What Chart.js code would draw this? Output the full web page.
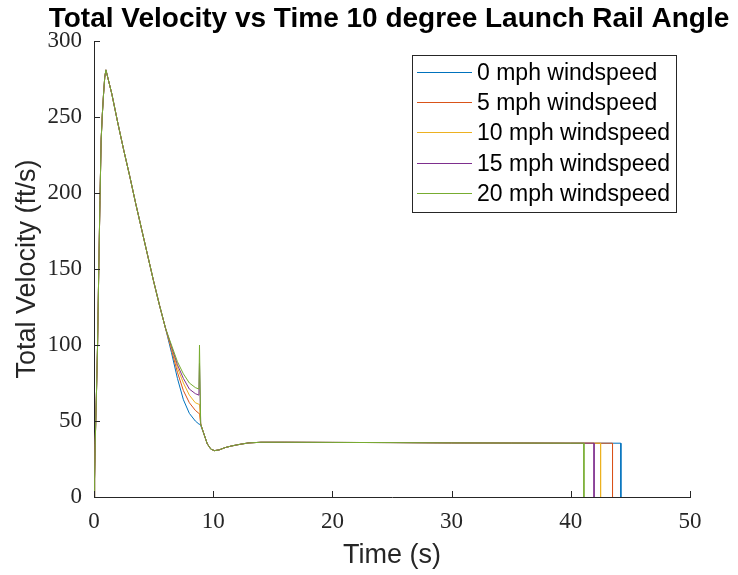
<!DOCTYPE html>
<html>
<head>
<meta charset="utf-8">
<script src="https://cdn.jsdelivr.net/npm/chart.js@4.4.1/dist/chart.umd.min.js"></script>
<style>
  html, body { margin: 0; padding: 0; background: #fff; }
  canvas { display: block; }
</style>
</head>
<body>
<canvas id="velocity" width="738" height="575"></canvas>
<script>
// boost + early coast, same for every windspeed
const boostTime = [0, 0.05, 0.1, 0.2, 0.3, 0.4, 0.5, 0.6, 0.7, 0.8, 0.9, 1.0, 1.5, 2, 2.5, 3, 3.5, 4, 4.5, 5, 5.5, 6];
const boostVel  = [0, 12, 35, 66, 100, 150, 195, 235, 252, 265, 276, 281, 265, 246, 228, 211, 193, 176, 159, 142, 126, 111];

// where the runs split apart before deployment
const splitTime = [6.5, 7.0, 7.5, 8.0, 8.5, 8.8, 8.85, 8.95];
const split0  = [95, 78, 64, 55, 50, 48, 48, 47];
const split5  = [97, 82, 70, 62, 57, 55, 55, 48];
const split10 = [98, 85, 75, 67, 62, 61, 61, 48];
const split15 = [99, 87, 78, 71, 68, 67, 88, 48];
const split20 = [100, 89, 81, 75, 72, 71, 100, 48];

// descent under chute
const descentTime = [9.2, 9.5, 9.8, 10.1, 10.5, 11, 11.5, 12, 12.5, 13, 14, 16, 20, 25, 30, 35, 40];
const descentVel  = [42, 35, 31.5, 30.5, 31, 32.5, 33.5, 34.3, 35, 35.6, 36, 36, 35.9, 35.8, 35.6, 35.5, 35.4];

const landTime = [44.2, 43.5, 42.5, 41.95, 41.1];
const landVel = 35.4;

const seriesLabels = ['0 mph windspeed', '5 mph windspeed', '10 mph windspeed', '15 mph windspeed', '20 mph windspeed'];
const seriesColors = ['#0072BD', '#D95319', '#EDB120', '#7E2F8E', '#77AC30'];
const splitVel = [split0, split5, split10, split15, split20];

const xTicks = [0, 10, 20, 30, 40, 50];
const yTicks = [0, 50, 100, 150, 200, 250, 300];

const chartTitle = 'Total Velocity vs Time 10 degree Launch Rail Angle';

function buildSeries(i) {
    const pts = [];
    boostTime.forEach((t, k) => pts.push({x: t, y: boostVel[k]}));
    splitTime.forEach((t, k) => pts.push({x: t, y: splitVel[i][k]}));
    descentTime.forEach((t, k) => pts.push({x: t, y: descentVel[k]}));
    pts.push({x: landTime[i], y: landVel});
    pts.push({x: landTime[i], y: 0});
    return pts;
}

const datasets = seriesLabels.map((lab, i) => ({
    label: lab,
    data: buildSeries(i),
    borderColor: seriesColors[i],
    backgroundColor: seriesColors[i],
    borderWidth: 1,
    pointRadius: 0,
    showLine: true,
    // matlab draws later lines on top
    order: seriesLabels.length - i
}));

const axisColor = '#262626';
const sansFont = '"Liberation Sans", Arial, sans-serif';
const serifFont = '"Liberation Serif", "DejaVu Serif", serif';

// inward tick marks like matlab
const tickMarks = {
    id: 'tickMarks',
    afterDraw(chart) {
        const c = chart.ctx;
        const xs = chart.scales.x, ys = chart.scales.y;
        const area = chart.chartArea;
        c.save();
        c.strokeStyle = axisColor;
        c.lineWidth = 1;
        c.beginPath();
        xs.ticks.forEach(t => {
            const px = Math.round(xs.getPixelForValue(t.value)) + 0.5;
            c.moveTo(px, area.bottom);
            c.lineTo(px, area.bottom - 6);
        });
        ys.ticks.forEach(t => {
            const py = Math.round(ys.getPixelForValue(t.value)) + 0.5;
            c.moveTo(area.left, py);
            c.lineTo(area.left + 6, py);
        });
        c.stroke();
        c.restore();
    }
};

// title centred over the axes, as matlab does
const axesTitle = {
    id: 'axesTitle',
    afterDraw(chart) {
        const c = chart.ctx;
        const area = chart.chartArea;
        c.save();
        c.fillStyle = '#000';
        c.font = 'bold 28px ' + sansFont;
        c.textAlign = 'center';
        c.textBaseline = 'alphabetic';
        c.fillText(chartTitle, (area.left + area.right) / 2 - 3, 27);
        c.restore();
    }
};

// boxed legend in the upper right
const boxLegend = {
    id: 'boxLegend',
    afterDraw(chart) {
        const c = chart.ctx;
        const bx = 412, by = 55, bw = 264, bh = 157;
        c.save();
        c.fillStyle = '#fff';
        c.fillRect(bx, by, bw, bh);
        c.strokeStyle = axisColor;
        c.lineWidth = 1;
        c.strokeRect(bx + 0.5, by + 0.5, bw, bh);
        c.font = '23px ' + sansFont;
        c.textBaseline = 'middle';
        chart.data.datasets.forEach((ds, i) => {
            const y = Math.round(72 + i * 30.2) + 0.5;
            c.strokeStyle = ds.borderColor;
            c.beginPath();
            c.moveTo(417, y);
            c.lineTo(472, y);
            c.stroke();
            c.fillStyle = '#000';
            c.fillText(ds.label, 477, y + 1);
        });
        c.restore();
    }
};

new Chart(document.getElementById('velocity'), {
    type: 'scatter',
    data: { datasets: datasets },
    options: {
        responsive: false,
        animation: false,
        devicePixelRatio: 1,
        layout: { padding: { left: 0, right: 48, top: 41, bottom: 0 } },
        plugins: {
            legend: { display: false },
            tooltip: { enabled: false },
            title: { display: false }
        },
        scales: {
            x: {
                type: 'linear',
                min: 0, max: 50,
                afterBuildTicks: s => { s.ticks = xTicks.map(v => ({value: v})); },
                afterFit: s => { s.height = 78; },
                grid: { display: false, drawTicks: false },
                border: { display: true, color: axisColor, width: 1 },
                ticks: {
                    color: axisColor,
                    padding: 11,
                    maxRotation: 0,
                    font: { family: serifFont, size: 23 }
                },
                title: {
                    display: true,
                    text: 'Time (s)',
                    color: axisColor,
                    font: { family: sansFont, size: 27, lineHeight: 1.2 },
                    padding: { top: 0, bottom: 2.8 }
                }
            },
            y: {
                type: 'linear',
                min: 0, max: 300,
                afterBuildTicks: s => { s.ticks = yTicks.map(v => ({value: v})); },
                afterFit: s => { s.width = 94; },
                grid: { display: false, drawTicks: false },
                border: { display: true, color: axisColor, width: 1 },
                ticks: {
                    color: axisColor,
                    padding: 12,
                    font: { family: serifFont, size: 23 }
                },
                title: {
                    display: true,
                    text: 'Total Velocity (ft/s)',
                    color: axisColor,
                    font: { family: sansFont, size: 27, lineHeight: 1.2 },
                    padding: { top: 11.8, bottom: 0 }
                }
            }
        }
    },
    plugins: [tickMarks, axesTitle, boxLegend]
});
</script>
</body>
</html>
